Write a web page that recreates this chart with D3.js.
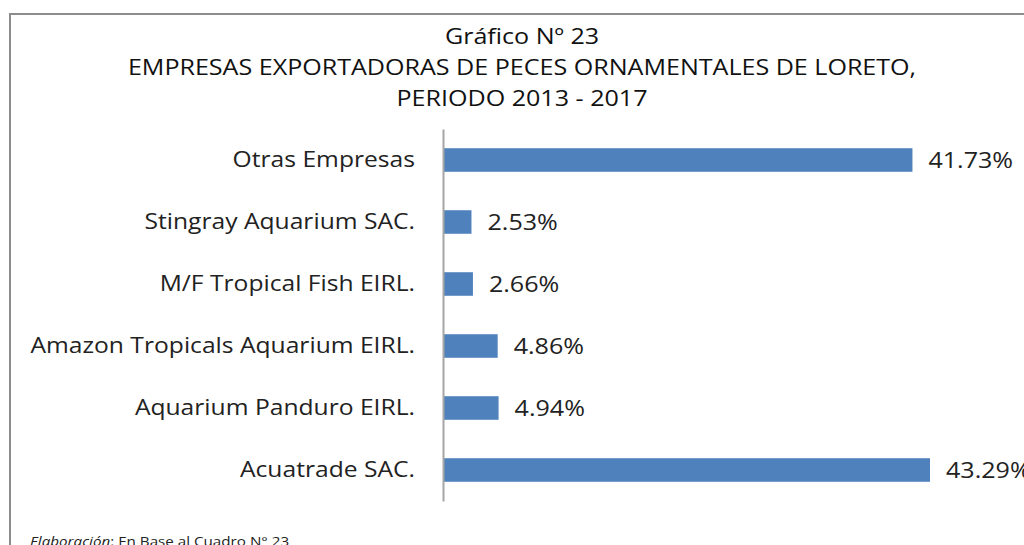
<!DOCTYPE html>
<html>
<head>
<meta charset="utf-8">
<script src="https://cdn.jsdelivr.net/npm/d3@7"></script>
<style>
  body { margin: 0; background: #fff; }
  svg { display: block; }
</style>
</head>
<body>
<div id="chart"></div>
<script>
// Data, top to bottom as drawn.
var categories = ["Otras Empresas", "Stingray Aquarium SAC.", "M/F Tropical Fish EIRL.",
    "Amazon Tropicals Aquarium EIRL.", "Aquarium Panduro EIRL.", "Acuatrade SAC."];
var values = [41.73, 2.53, 2.66, 4.86, 4.94, 43.29];
var titleLines = ["Gráfico Nº 23", "EMPRESAS EXPORTADORAS DE PECES ORNAMENTALES DE LORETO,", "PERIODO 2013 - 2017"];

var width = 1024, height = 545;
var stretch = 1.14; // the original picture is stretched horizontally
var labelStretch = 1.12;
var font = "'Open Sans', sans-serif";

var svg = d3.select("#chart").append("svg")
    .attr("width", width)
    .attr("height", height);

// Frame
svg.append("path")
    .attr("d", "M10,545 V14 H1024")
    .attr("fill", "none")
    .attr("stroke", "#8c8c8c")
    .attr("stroke-width", 2);

// Title
svg.append("g").selectAll("text")
    .data(titleLines)
    .enter().append("text")
    .attr("transform", (d, i) => "translate(522," + (44 + i * 31) + ") scale(" + stretch + ",1)")
    .attr("text-anchor", "middle")
    .style("font-family", font)
    .style("font-size", "22px")
    .style("fill", "#111")
    .text(d => d);

var x0 = 443;
var x = d3.scaleLinear().domain([0, 43.29]).range([x0, 930]);
var y = d3.scaleBand().domain(categories).range([129, 501]).paddingInner(0.62).paddingOuter(0.31);

// Bars
svg.append("g").selectAll("rect")
    .data(values)
    .enter().append("rect")
    .attr("x", x(0))
    .attr("y", (d, i) => y(categories[i]))
    .attr("width", d => x(d) - x(0))
    .attr("height", y.bandwidth())
    .attr("fill", "#4f81bd");

// Value labels
svg.append("g").selectAll("text")
    .data(values)
    .enter().append("text")
    .attr("transform", (d, i) => "translate(" + (x(d) + 16) + "," + (y(categories[i]) + y.bandwidth() / 2) + ") scale(" + stretch + ",1)")
    .attr("dy", "0.36em")
    .style("font-family", font)
    .style("font-size", "22px")
    .style("fill", "#222")
    .text(d => d.toFixed(2) + "%");

// Category axis
var axis = svg.append("g")
    .attr("transform", "translate(" + x0 + ",0)")
    .call(d3.axisLeft(y).tickSize(0).tickPadding(25));
axis.select(".domain").attr("stroke", "#a6a6a6").attr("stroke-width", 2);
axis.selectAll("text")
    .attr("transform", "scale(" + labelStretch + ",1)")
    .style("font-family", font)
    .style("font-size", "22px")
    .style("fill", "#222");

// Footer
var foot = svg.append("text")
    .attr("transform", "translate(30,546) scale(1.17,1)")
    .style("font-family", font)
    .style("font-size", "13px")
    .style("fill", "#222");
foot.append("tspan").style("font-style", "italic").text("Elaboración");
foot.append("tspan").text(": En Base al Cuadro N° 23");
</script>
</body>
</html>
